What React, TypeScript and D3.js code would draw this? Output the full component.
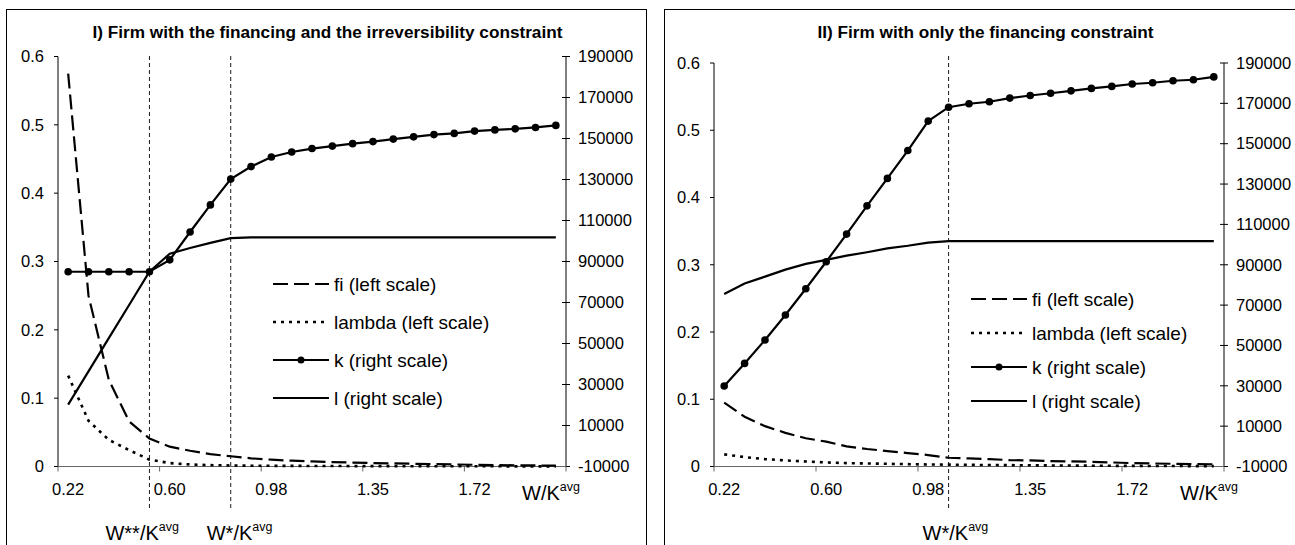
import React from 'react';
import * as d3 from 'd3';

// category axis W/K^avg (only every 5th label shown)
const categories = [
  '0.22', '0.30', '0.37', '0.45', '0.52', '0.60', '0.67', '0.75', '0.83', '0.90',
  '0.98', '1.05', '1.13', '1.20', '1.28', '1.35', '1.43', '1.50', '1.57', '1.65',
  '1.72', '1.80', '1.87', '1.95', '2.02',
];
const leftTicks = [0, 0.1, 0.2, 0.3, 0.4, 0.5, 0.6];
const rightTicks = [-10000, 10000, 30000, 50000, 70000, 90000, 110000, 130000, 150000, 170000, 190000];

// panel I: financing + irreversibility constraint
const fiI = [0.575, 0.25, 0.127, 0.066, 0.041, 0.029, 0.023, 0.018, 0.015, 0.012, 0.01, 0.0085, 0.0075, 0.0065, 0.0058, 0.005, 0.0045, 0.004, 0.0035, 0.003, 0.0025, 0.002, 0.0018, 0.0015, 0.0012];
const lambdaI = [0.133, 0.067, 0.039, 0.024, 0.01, 0.005, 0.003, 0.002, 0.0015, 0.0012, 0.001, 0.0009, 0.0008, 0.0007, 0.0006, 0.0005, 0.0005, 0.0004, 0.0004, 0.0003, 0.0003, 0.0003, 0.0002, 0.0002, 0.0002];
const kI = [85000, 85000, 85000, 85000, 85000, 90800, 104400, 117600, 130200, 136300, 141000, 143400, 145100, 146300, 147500, 148500, 149700, 150800, 151900, 152500, 153600, 154200, 154700, 155400, 156400];
const lI = [20200, 36400, 52600, 68800, 85000, 93800, 96600, 99100, 101400, 101800, 101800, 101800, 101800, 101800, 101800, 101800, 101800, 101800, 101800, 101800, 101800, 101800, 101800, 101800, 101800];
const markersI = [{ cat: 4, label: 'W**/K', dx: -44 }, { cat: 8, label: 'W*/K', dx: -24 }];

// panel II: only the financing constraint
const fiII = [0.095, 0.074, 0.06, 0.05, 0.042, 0.037, 0.03, 0.026, 0.023, 0.02, 0.017, 0.013, 0.012, 0.011, 0.0095, 0.009, 0.008, 0.0075, 0.007, 0.006, 0.005, 0.0045, 0.004, 0.0035, 0.003];
const lambdaII = [0.018, 0.014, 0.011, 0.009, 0.0075, 0.006, 0.005, 0.0045, 0.004, 0.0035, 0.003, 0.0028, 0.0025, 0.0022, 0.002, 0.0018, 0.0016, 0.0014, 0.0012, 0.001, 0.0009, 0.0008, 0.0007, 0.0006, 0.0005];
const kII = [29900, 41100, 52700, 65100, 78100, 91500, 105200, 119200, 132800, 146600, 161200, 168100, 169800, 170800, 172600, 173900, 175000, 176200, 177400, 178400, 179600, 180200, 181200, 181700, 183100];
const lII = [75500, 80700, 84100, 87600, 90400, 92400, 94500, 96200, 98100, 99400, 101000, 101700, 101700, 101700, 101700, 101700, 101700, 101700, 101700, 101700, 101700, 101700, 101700, 101700, 101700];
const markersII = [{ cat: 11, label: 'W*/K', dx: -26 }];

const legendItems = ['fi (left scale)', 'lambda (left scale)', 'k (right scale)', 'l (right scale)'];

const FONT = '"Liberation Sans", Arial, Helvetica, sans-serif';
const FI_DASH = '15,6';
const LAMBDA_DASH = '3,5';

function Panel({ title, frameX, left, right, top, bottom, fi, lambda, k, l, markers, legendX, legendY, legendGap }) {
  const x = d3.scaleBand().domain(categories).range([left, right]).padding(0);
  const cx = (i) => x(categories[i]) + x.bandwidth() / 2;
  const yL = d3.scaleLinear().domain([0, 0.6]).range([bottom, top]);
  const yR = d3.scaleLinear().domain([-10000, 190000]).range([bottom, top]);

  const lineL = d3.line().x((d, i) => cx(i)).y(d => yL(d));
  const lineR = d3.line().x((d, i) => cx(i)).y(d => yR(d));

  const xTickIdx = [0, 5, 10, 15, 20];
  const bounds = [...xTickIdx.map(i => x(categories[i])), right];

  return (
    <g fontFamily={FONT}>
      <rect x={frameX} y={9.5} width={640} height={600} fill="white" stroke="#000" strokeWidth={1} />
      <text x={frameX + 321} y={38} textAnchor="middle" fontSize={17.2} fontWeight="bold">{title}</text>

      {/* left axis */}
      <line x1={left} x2={left} y1={top} y2={bottom} stroke="#000" strokeWidth={1} />
      {leftTicks.map(t => (
        <g key={'l' + t}>
          <line x1={left - 4} x2={left} y1={yL(t)} y2={yL(t)} stroke="#000" />
          <text x={left - 14} y={yL(t)} dy="0.35em" textAnchor="end" fontSize={16.5}>{String(+t.toFixed(1))}</text>
        </g>
      ))}

      {/* right axis */}
      <line x1={right} x2={right} y1={top} y2={bottom} stroke="#000" strokeWidth={1} />
      {rightTicks.map(t => (
        <g key={'r' + t}>
          <line x1={right - 4} x2={right + 4} y1={yR(t)} y2={yR(t)} stroke="#000" />
          <text x={right + 12} y={yR(t)} dy="0.35em" fontSize={16.5}>{t}</text>
        </g>
      ))}

      {/* category axis */}
      <line x1={left} x2={right} y1={bottom} y2={bottom} stroke="#666" strokeWidth={1.2} />
      {bounds.map((b, i) => (
        <line key={'b' + i} x1={b} x2={b} y1={bottom} y2={bottom + 5} stroke="#666" />
      ))}
      {xTickIdx.map(i => (
        <text key={'x' + i} x={cx(i)} y={489} dy="0.35em" textAnchor="middle" fontSize={16.5}>{categories[i]}</text>
      ))}
      <text x={right - 44} y={500} fontSize={20}>
        W/K<tspan fontSize={12.5} dy={-9}>avg</tspan>
      </text>

      {/* threshold lines */}
      {markers.map(m => (
        <g key={m.label}>
          <line x1={cx(m.cat)} x2={cx(m.cat)} y1={56} y2={511} stroke="#000" strokeWidth={0.9} strokeDasharray="4,3" />
          <text x={cx(m.cat) + m.dx} y={540} fontSize={20}>
            {m.label}<tspan fontSize={12.5} dy={-9}>avg</tspan>
          </text>
        </g>
      ))}

      {/* series */}
      <path d={lineL(fi)} fill="none" stroke="#000" strokeWidth={2.2} strokeDasharray={FI_DASH} />
      <path d={lineL(lambda)} fill="none" stroke="#000" strokeWidth={2.6} strokeDasharray={LAMBDA_DASH} />
      <path d={lineR(l)} fill="none" stroke="#000" strokeWidth={2.2} />
      <path d={lineR(k)} fill="none" stroke="#000" strokeWidth={2.2} />
      {k.map((v, i) => <circle key={'k' + i} cx={cx(i)} cy={yR(v)} r={3.8} fill="#000" />)}

      {/* legend */}
      {legendItems.map((name, i) => {
        const y = legendY + i * legendGap;
        return (
          <g key={name}>
            <line x1={legendX} x2={legendX + 56} y1={y} y2={y} stroke="#000"
              strokeWidth={i === 1 ? 2.6 : 2.2}
              strokeDasharray={i === 0 ? FI_DASH : i === 1 ? LAMBDA_DASH : null} />
            {i === 2 && <circle cx={legendX + 28} cy={y} r={3.5} fill="#000" />}
            <text x={legendX + 61} y={y} dy="0.35em" fontSize={19}>{name}</text>
          </g>
        );
      })}
    </g>
  );
}

export default function App() {
  return (
    <svg width={1295} height={545} style={{ position: 'absolute', left: 0, top: 0, background: '#fff' }}>
      <Panel
        title="I) Firm with the financing and the irreversibility constraint"
        frameX={6.5} left={58} right={566} top={56.5} bottom={466.5}
        fi={fiI} lambda={lambdaI} k={kI} l={lI} markers={markersI}
        legendX={273} legendY={284} legendGap={38}
      />
      <Panel
        title="II) Firm with only the financing constraint"
        frameX={664.5} left={714} right={1224} top={63} bottom={466.5}
        fi={fiII} lambda={lambdaII} k={kII} l={lII} markers={markersII}
        legendX={971} legendY={299} legendGap={34}
      />
    </svg>
  );
}
